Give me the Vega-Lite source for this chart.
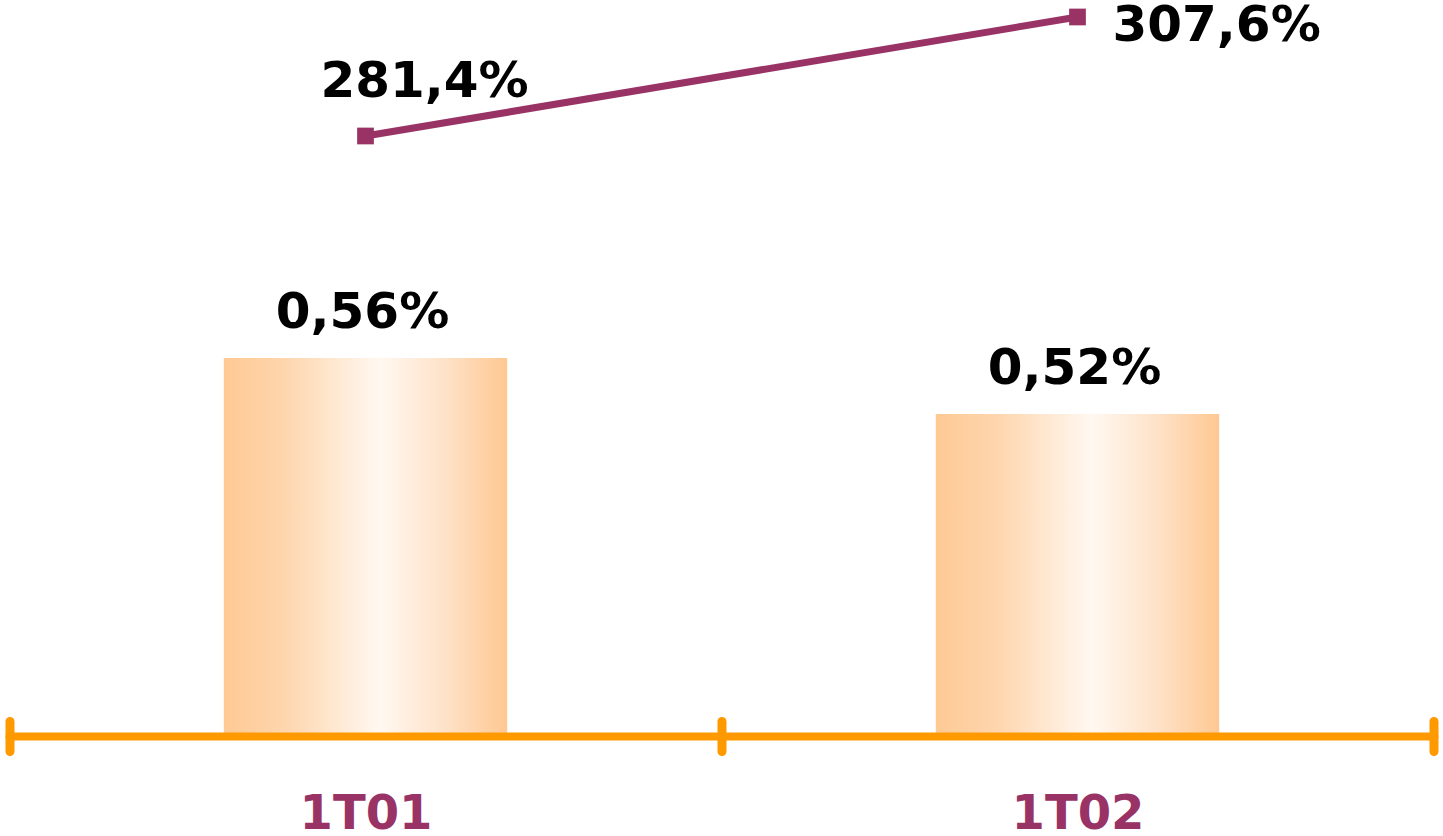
{
  "$schema": "https://vega.github.io/schema/vega-lite/v6.json",
  "autosize": {"type": "none"},
  "width": 1424,
  "height": 736,
  "padding": {"left": 9.5, "top": 0, "right": 9.5, "bottom": 100},
  "background": "white",
  "data": {
    "values": [
      {"period": "1T01", "ratio": 0.56, "ratioLabel": "0,56%", "cover": 281.4, "coverLabel": "281,4%"},
      {"period": "1T02", "ratio": 0.52, "ratioLabel": "0,52%", "cover": 307.6, "coverLabel": "307,6%"}
    ]
  },
  "layer": [
    {
      "mark": {
        "type": "bar",
        "width": {"band": 0.398},
        "color": {
          "x1": 0, "y1": 0, "x2": 1, "y2": 0,
          "gradient": "linear",
          "stops": [
            {"offset": 0, "color": "#FEC994"},
            {"offset": 0.22, "color": "#FED6AE"},
            {"offset": 0.55, "color": "#FFF8F1"},
            {"offset": 0.78, "color": "#FEE2C8"},
            {"offset": 1, "color": "#FEC892"}
          ]
        }
      },
      "encoding": {
        "x": {
          "field": "period", "type": "nominal", "sort": null,
          "scale": {"paddingInner": 0, "paddingOuter": 0},
          "axis": {
            "title": null, "orient": "bottom", "zindex": 1,
            "domain": true, "domainColor": "#FF9900", "domainWidth": 8,
            "ticks": true, "tickBand": "extent", "tickSize": 15, "tickWidth": 9, "tickColor": "#FF9900", "tickCap": "round",
            "labelAngle": 0, "labelFont": "DejaVu Sans", "labelFontWeight": "bold", "labelFontSize": 48,
            "labelColor": "#993366", "labelBaseline": "alphabetic", "labelPadding": 77
          }
        },
        "y": {"field": "ratio", "type": "quantitative", "scale": {"domain": [0.29, 0.8157], "zero": false}, "axis": null},
        "y2": {"datum": 0.29}
      }
    },
    {
      "mark": {"type": "text", "font": "DejaVu Sans", "fontWeight": "bold", "fontSize": 50, "color": "black", "align": "center", "baseline": "alphabetic", "dx": -3, "dy": -30},
      "encoding": {
        "x": {"field": "period", "type": "nominal", "sort": null, "scale": {"paddingInner": 0, "paddingOuter": 0}, "axis": null},
        "y": {"field": "ratio", "type": "quantitative", "scale": {"domain": [0.29, 0.8157], "zero": false}, "axis": null},
        "text": {"field": "ratioLabel"}
      }
    },
    {
      "mark": {"type": "line", "color": "#993366", "strokeWidth": 7, "point": {"shape": "square", "size": 280, "filled": true, "color": "#993366"}},
      "encoding": {
        "x": {
          "field": "period", "type": "nominal", "sort": null,
          "scale": {"paddingInner": 0, "paddingOuter": 0},
          "axis": {"title": null, "orient": "bottom", "zindex": 1, "domain": false, "labels": false, "ticks": true, "tickBand": "extent", "tickSize": -15, "tickWidth": 9, "tickColor": "#FF9900", "tickCap": "round"}
        },
        "y": {"field": "cover", "type": "quantitative", "scale": {"domain": [149.3, 311.34], "zero": false}, "axis": null}
      }
    },
    {
      "transform": [{"filter": "datum.period == '1T01'"}],
      "mark": {"type": "text", "font": "DejaVu Sans", "fontWeight": "bold", "fontSize": 50, "color": "black", "align": "center", "baseline": "alphabetic", "dx": 59, "dy": -39},
      "encoding": {
        "x": {"field": "period", "type": "nominal", "sort": null, "scale": {"domain": ["1T01", "1T02"], "paddingInner": 0, "paddingOuter": 0}, "axis": null},
        "y": {"field": "cover", "type": "quantitative", "scale": {"domain": [149.3, 311.34], "zero": false}, "axis": null},
        "text": {"field": "coverLabel"}
      }
    },
    {
      "transform": [{"filter": "datum.period == '1T02'"}],
      "mark": {"type": "text", "font": "DejaVu Sans", "fontWeight": "bold", "fontSize": 50, "color": "black", "align": "left", "baseline": "alphabetic", "dx": 35, "dy": 24},
      "encoding": {
        "x": {"field": "period", "type": "nominal", "sort": null, "scale": {"domain": ["1T01", "1T02"], "paddingInner": 0, "paddingOuter": 0}, "axis": null},
        "y": {"field": "cover", "type": "quantitative", "scale": {"domain": [149.3, 311.34], "zero": false}, "axis": null},
        "text": {"field": "coverLabel"}
      }
    }
  ],
  "resolve": {"scale": {"y": "independent"}, "axis": {"x": "independent"}},
  "config": {"view": {"stroke": null}}
}
